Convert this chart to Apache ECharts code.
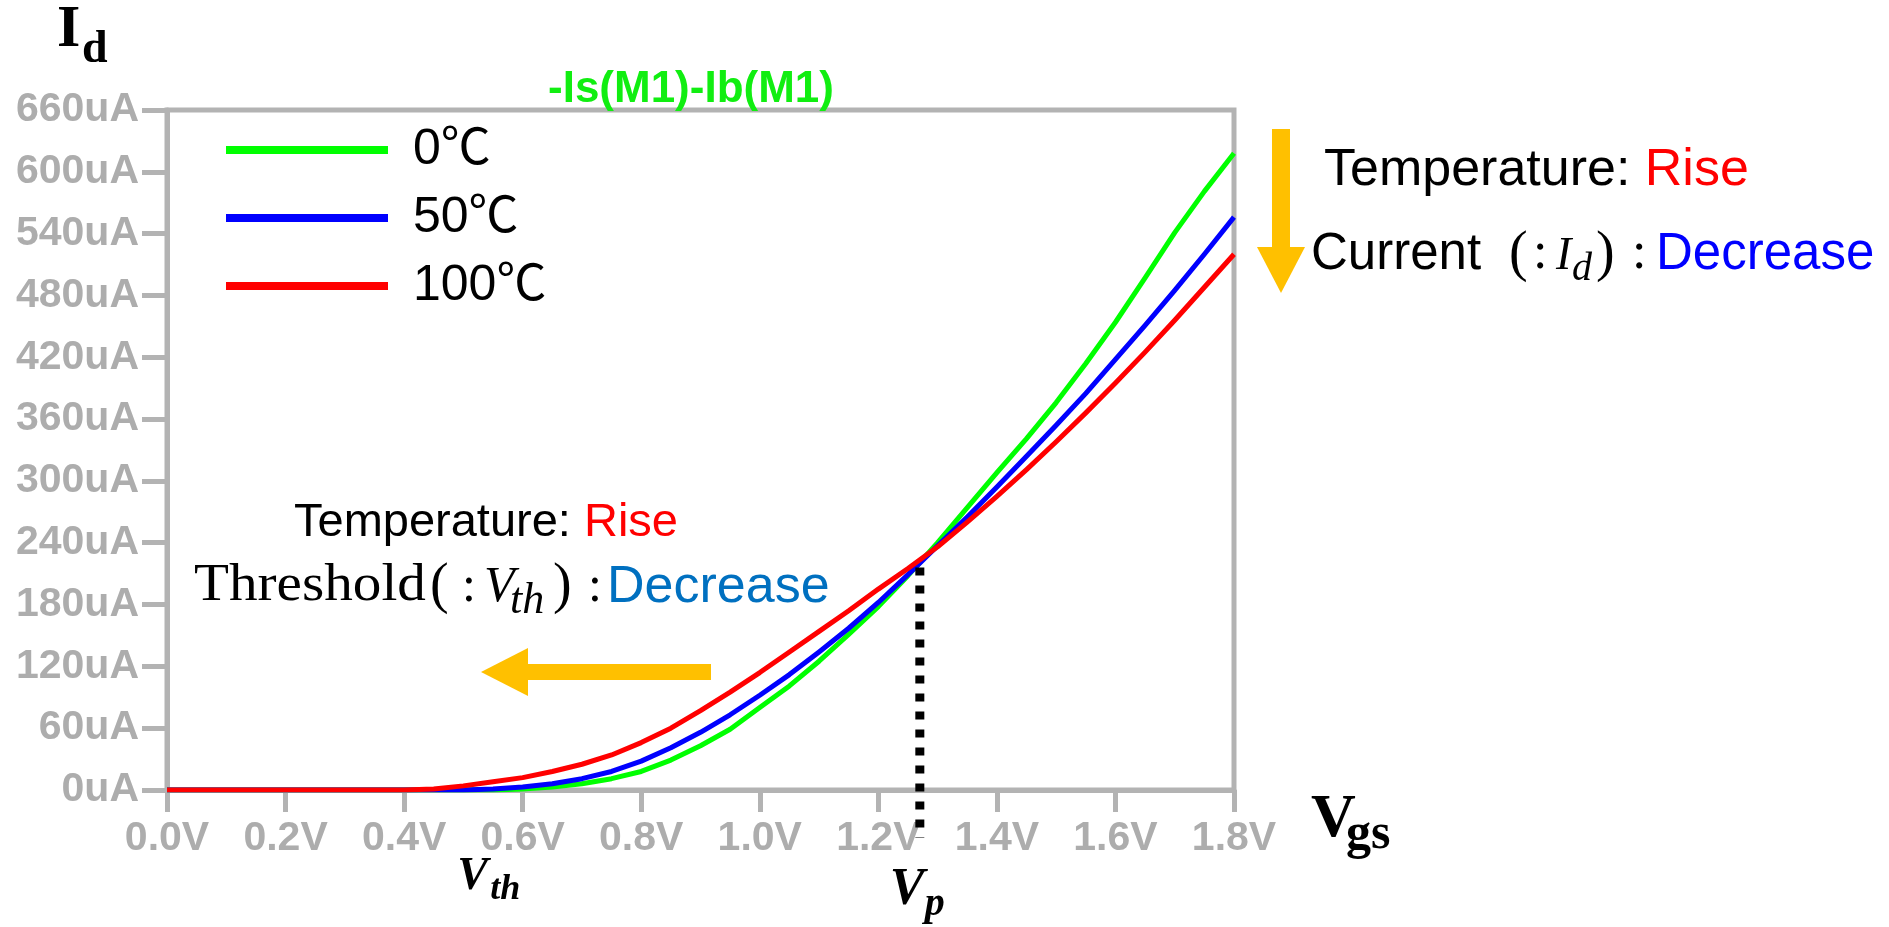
<!DOCTYPE html>
<html>
<head>
<meta charset="utf-8">
<title>Id-Vgs temperature dependence</title>
<script src="https://cdn.jsdelivr.net/npm/echarts@6/dist/echarts.min.js"></script>
<style>
  html, body { margin: 0; padding: 0; background: #ffffff; }
  #chart { width: 1889px; height: 927px; }
</style>
</head>
<body>
<div id="chart"></div>
<script>
// Gate voltage sweep (V)
const vgs = [0.00, 0.05, 0.10, 0.15, 0.20, 0.25, 0.30, 0.35, 0.40, 0.45,
             0.50, 0.55, 0.60, 0.65, 0.70, 0.75, 0.80, 0.85, 0.90, 0.95,
             1.00, 1.05, 1.10, 1.15, 1.20, 1.25, 1.30, 1.35, 1.40, 1.45,
             1.50, 1.55, 1.60, 1.65, 1.70, 1.75, 1.80];

// Drain current (uA) at 0 ℃
const id0 = [0, 0, 0, 0, 0, 0, 0, 0, 0, 0,
             0, 0, 1, 3, 6, 11, 18, 29, 43, 59,
             80, 101, 125, 151, 178, 208, 240, 274, 308, 341,
             376, 414, 454, 497, 541, 581, 618];

// Drain current (uA) at 50 ℃
const id50 = [0, 0, 0, 0, 0, 0, 0, 0, 0, 0,
              0, 1, 3, 6, 11, 18, 28, 41, 56, 73,
              92, 112, 134, 157, 182, 209, 237, 265, 294, 324,
              354, 385, 418, 451, 485, 520, 556];

// Drain current (uA) at 100 ℃
const id100 = [0, 0, 0, 0, 0, 0, 0, 0, 0, 1,
               4, 8, 12, 18, 25, 34, 46, 60, 77, 95,
               114, 134, 154, 174, 195, 215, 236, 260, 285, 311,
               338, 366, 395, 425, 456, 488, 520];

const seriesNames = ['0℃', '50℃', '100℃'];
const seriesColors = ['#00ff00', '#0000ff', '#ff0000'];

// Axis ticks
const xTicks = [0.0, 0.2, 0.4, 0.6, 0.8, 1.0, 1.2, 1.4, 1.6, 1.8];
const yTicks = [0, 60, 120, 180, 240, 300, 360, 420, 480, 540, 600, 660];

// Crossing point of the three curves (V, uA) and the threshold label position (V)
const vp = 1.27;
const ip = 216;
const vthAt = 0.552;

const SANS = '"Liberation Sans", Arial, "Noto Sans CJK JP", sans-serif';
const SERIF = '"Liberation Serif", "Times New Roman", serif';
const AXIS_GRAY = '#b3b3b3';
const LABEL_GRAY = '#adadad';
const ORANGE = '#ffc000';

function pairs(ys) { return vgs.map((v, i) => [v, ys[i]]); }
const currents = [id0, id50, id100];

const chart = echarts.init(document.getElementById('chart'), null, { renderer: 'canvas' });

chart.setOption({
  animation: false,
  backgroundColor: '#ffffff',
  title: {
    text: '-Is(M1)-Ib(M1)',
    left: 548,
    top: 68,
    padding: 0,
    textStyle: { color: '#11ee11', fontSize: 44, fontWeight: 'bold', fontFamily: SANS }
  },
  legend: {
    orient: 'vertical',
    left: 226,
    top: 117,
    padding: 0,
    itemGap: 2,
    itemWidth: 162,
    itemHeight: 8,
    icon: 'rect',
    data: seriesNames,
    textStyle: { fontSize: 50, lineHeight: 50, color: '#000', fontFamily: SANS, padding: [16, 0, 0, 20] }
  },
  grid: {
    left: 167, right: 655, top: 110, bottom: 137,
    show: true, borderColor: AXIS_GRAY, borderWidth: 5,
    outerBoundsMode: 'none'
  },
  xAxis: {
    type: 'value',
    min: xTicks[0], max: xTicks[xTicks.length - 1], interval: 0.2,
    axisLine: { show: true, onZero: false, lineStyle: { color: AXIS_GRAY, width: 5 } },
    axisTick: { show: true, length: 22, lineStyle: { color: AXIS_GRAY, width: 5 } },
    axisLabel: {
      margin: 28, fontSize: 41, fontWeight: 'bold', color: LABEL_GRAY, fontFamily: SANS,
      formatter: v => v.toFixed(1) + 'V'
    },
    splitLine: { show: false }
  },
  yAxis: {
    type: 'value',
    min: yTicks[0], max: yTicks[yTicks.length - 1], interval: 60,
    axisLine: { show: true, lineStyle: { color: AXIS_GRAY, width: 5 } },
    axisTick: { show: true, length: 25, lineStyle: { color: AXIS_GRAY, width: 5 } },
    axisLabel: {
      margin: 28, fontSize: 41, fontWeight: 'bold', color: LABEL_GRAY, fontFamily: SANS,
      formatter: v => Math.round(v) + 'uA'
    },
    splitLine: { show: false }
  },
  series: seriesNames.map((name, i) => ({
    name: name,
    type: 'line',
    data: pairs(currents[i]),
    showSymbol: false,
    smooth: false,
    color: seriesColors[i],
    lineStyle: { color: seriesColors[i], width: 5, join: 'round' },
    z: 3 + i
  }))
});

// Text helper: baseline is the alphabetic baseline of the text.
function txt(x, baseline, text, size, opts) {
  opts = opts || {};
  return {
    type: 'text',
    x: x,
    y: baseline - 0.33 * size,
    scaleX: opts.scaleX || 1,
    z: 20,
    style: {
      text: text,
      fontSize: size,
      fontFamily: opts.family || SANS,
      fontWeight: opts.weight || 'normal',
      fontStyle: opts.style || 'normal',
      fill: opts.color || '#000',
      verticalAlign: 'middle',
      align: 'left',
      rich: opts.rich
    }
  };
}

function richTwo(size) {
  return {
    k: { fontSize: size, lineHeight: size, fontFamily: SANS, fill: '#000000' },
    r: { fontSize: size, lineHeight: size, fontFamily: SANS, fill: '#ff0000' }
  };
}

const pTop = chart.convertToPixel({ gridIndex: 0 }, [vp, ip]);
const pZero = chart.convertToPixel({ gridIndex: 0 }, [vp, 0]);
const pVth = chart.convertToPixel({ gridIndex: 0 }, [vthAt, 0]);

const graphics = [
  // Crossing point marker down past the axis
  {
    type: 'line', z: 10,
    shape: { x1: pTop[0], y1: pTop[1], x2: pZero[0], y2: pZero[1] + 48 },
    style: { stroke: '#000', lineWidth: 9, lineDash: [8, 10], lineCap: 'butt' }
  },
  // Down arrow (current)
  { type: 'rect', z: 10, shape: { x: 1272, y: 129, width: 18, height: 118 }, style: { fill: ORANGE } },
  { type: 'polygon', z: 10, shape: { points: [[1257, 247], [1305, 247], [1281, 293]] }, style: { fill: ORANGE } },
  // Left arrow (threshold)
  { type: 'rect', z: 10, shape: { x: 527, y: 664, width: 184, height: 16 }, style: { fill: ORANGE } },
  { type: 'polygon', z: 10, shape: { points: [[528, 648], [528, 696], [481, 672]] }, style: { fill: ORANGE } },

  // Axis names
  txt(57, 50, 'I', 60, { family: SERIF, weight: 'bold' }),
  txt(82, 65, 'd', 46, { family: SERIF, weight: 'bold' }),
  txt(1311, 840, 'V', 62, { family: SERIF, weight: 'bold' }),
  txt(1346, 852, 'gs', 50, { family: SERIF, weight: 'bold' }),

  // Threshold and crossing labels
  txt(pVth[0] - 37, 892, 'V', 46, { family: SERIF, weight: 'bold', style: 'italic' }),
  txt(pVth[0] - 4, 902, 'th', 36, { family: SERIF, weight: 'bold', style: 'italic' }),
  txt(pZero[0] - 30, 908, 'V', 52, { family: SERIF, weight: 'bold', style: 'italic' }),
  txt(pZero[0] + 5, 918, 'p', 40, { family: SERIF, weight: 'bold', style: 'italic' }),

  // Right note
  txt(1324, 188, '{k|Temperature: }{r|Rise}', 52, { rich: richTwo(52) }),
  txt(1311, 272, 'Current', 51),
  txt(1509, 274, '(', 56, { family: SERIF }),
  txt(1533, 272, ':', 52, { family: SERIF }),
  txt(1556, 272, 'I', 46, { family: SERIF, style: 'italic' }),
  txt(1572, 283, 'd', 40, { family: SERIF, style: 'italic' }),
  txt(1596, 274, ')', 56, { family: SERIF }),
  txt(1632, 272, ':', 52, { family: SERIF }),
  txt(1656, 272, 'Decrease', 51, { color: '#0000ff' }),

  // Left note
  txt(294, 539, '{k|Temperature: }{r|Rise}', 47, { rich: richTwo(47) }),
  txt(194, 604, 'Threshold', 52, { family: SERIF, scaleX: 1.1 }),
  txt(430, 606, '(', 56, { family: SERIF }),
  txt(462, 604, ':', 50, { family: SERIF }),
  txt(484, 604, 'V', 50, { family: SERIF, style: 'italic' }),
  txt(510, 616, 'th', 44, { family: SERIF, style: 'italic' }),
  txt(553, 606, ')', 56, { family: SERIF }),
  txt(588, 604, ':', 50, { family: SERIF }),
  txt(607, 605, 'Decrease', 52, { color: '#0070c0' })
];

chart.setOption({ graphic: graphics });
</script>
</body>
</html>
